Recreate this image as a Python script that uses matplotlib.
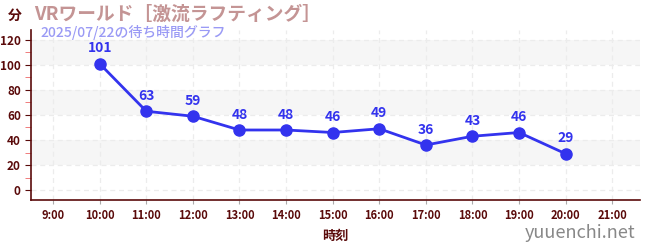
import matplotlib
matplotlib.use("Agg")
import matplotlib.pyplot as plt
from matplotlib.ticker import MultipleLocator

plt.rcParams['font.family'] = ['Noto Sans CJK JP', 'DejaVu Sans']

hours = [10, 11, 12, 13, 14, 15, 16, 17, 18, 19, 20]
waits = [101, 63, 59, 48, 48, 46, 49, 36, 43, 46, 29]
tick_hours = list(range(9, 22))
tick_labels = [f"{h}:00" for h in tick_hours]
title = "VRワールド［激流ラフティング］"
subtitle = "2025/07/22の待ち時間グラフ"

dark = "#5a0a0a"
blue = "#3333ee"

fig = plt.figure(figsize=(6.5, 2.5), dpi=100)
ax = fig.add_axes([0.048, 0.2, 0.937, 0.68])
ax.set_xlim(8.53, 21.6)
ax.set_ylim(-8, 128)

for y0 in (20, 60, 100):
    ax.axhspan(y0, y0 + 20, color="#f6f6f6", zorder=0, lw=0)

ax.grid(True, which="major", color="#ececec", linestyle=(0, (4, 3)), lw=0.9, zorder=1)

ax.plot(hours, waits, color=blue, lw=2.0, marker="o", ms=8, zorder=3)
for h, w in zip(hours, waits):
    ax.annotate(str(w), (h, w), xytext=(0, 6), textcoords="offset points",
                ha="center", va="bottom", color=blue, fontsize=10, fontweight="bold", zorder=4)

ax.set_xticks(tick_hours)
ax.set_xticklabels(tick_labels)
ax.yaxis.set_major_locator(MultipleLocator(20))
ax.yaxis.set_minor_locator(MultipleLocator(10))
ax.tick_params(axis="y", which="major", colors=dark, labelsize=8.5, length=4)
ax.tick_params(axis="y", which="minor", color="#ee6666", length=4)
ax.tick_params(axis="x", colors=dark, labelsize=8, length=3)
ax.tick_params(axis="x", which="major", color="#aaaaaa")
for lab in ax.get_xticklabels() + ax.get_yticklabels():
    lab.set_fontweight("bold")

for s in ("top", "right"):
    ax.spines[s].set_visible(False)
for s in ("left", "bottom"):
    ax.spines[s].set_color(dark)
    ax.spines[s].set_linewidth(1.2)

ax.set_xlabel("時刻", color=dark, fontsize=9.5, fontweight="bold", labelpad=5)

fig.text(0.012, 0.935, "分", color=dark, fontsize=10, fontweight="bold", va="center")
fig.text(0.052, 0.945, title, color="#c49494", fontsize=13.5, fontweight="bold", va="center")
fig.text(0.062, 0.868, subtitle, color="#9a9af5", fontsize=10, fontweight="medium", va="center")
fig.text(0.978, 0.068, "yuuenchi.net", color="#888888", fontsize=13, ha="right", va="center")

fig.savefig("out.png", dpi=100)
